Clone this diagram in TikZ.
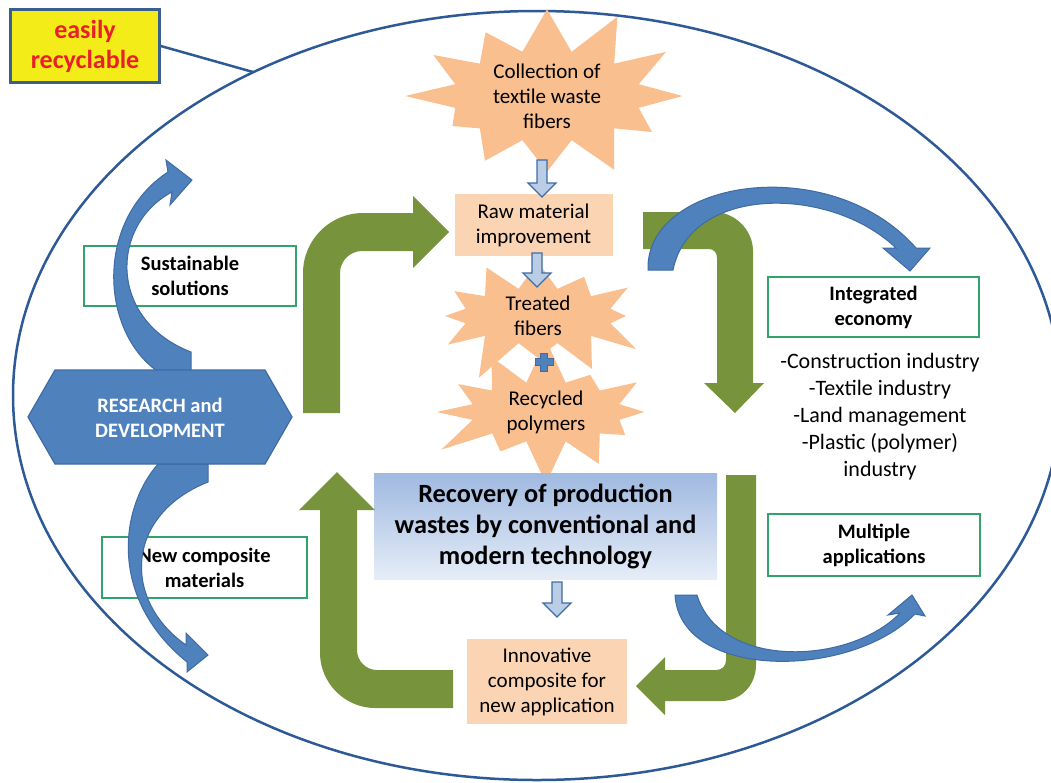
\documentclass[tikz,border=0pt]{standalone}
\usepackage{fontspec}
\setmainfont{Carlito}
\usetikzlibrary{shapes.symbols}

\definecolor{ringblue}{HTML}{2D5A97}
\definecolor{burstpeach}{HTML}{F9BF8F}
\definecolor{boxpeach}{HTML}{FBD4B4}
\definecolor{olivegreen}{HTML}{77933C}
\definecolor{arrowblue}{HTML}{4F81BD}
\definecolor{arrowedge}{HTML}{3E6BA3}
\definecolor{hollowfill}{HTML}{B9CDE5}
\definecolor{hollowedge}{HTML}{3F6CA6}
\definecolor{framegreen}{HTML}{33A36B}
\definecolor{recovtop}{HTML}{9FB9E0}
\definecolor{recovbot}{HTML}{E6EDF8}
\definecolor{tagyellow}{HTML}{F3EC19}
\definecolor{tagedge}{HTML}{3A5F8C}
\definecolor{tagred}{HTML}{E8202A}

\begin{document}
\begin{tikzpicture}[x=1pt,y=-1pt,
    ring/.style={draw=ringblue, line width=2.5pt},
    burst/.style={starburst, fill=burstpeach, starburst points=12,
      starburst point height=50pt, inner sep=0pt, align=center,
      font=\fontsize{21}{25}\selectfont},
    peachbox/.style={fill=boxpeach, align=center, inner sep=0pt,
      font=\fontsize{21}{25}\selectfont},
    framebox/.style={draw=framegreen, line width=1.5pt, fill=white,
      align=center, inner sep=0pt, font=\bfseries\fontsize{20.5}{25}\selectfont},
    greenarrow/.style={fill=olivegreen},
    bluearrow/.style={fill=arrowblue, draw=arrowedge, line width=1pt},
    hollow/.style={fill=hollowfill, draw=hollowedge, line width=1.3pt}]
    \useasboundingbox (0,0) rectangle (1051,782);

    %% outer ellipse and label
    \draw[ring] (537,395.5) ellipse [x radius=524, y radius=384.5];
    \node[draw=tagedge, line width=2.5pt, fill=tagyellow, text=tagred,
      minimum width=149pt, minimum height=73pt, inner sep=0pt, align=center,
      font=\bfseries\fontsize{26}{30}\selectfont] (easy) at (85,46)
      {easily\\recyclable};
    \coordinate (tie) at (253,72);
    \draw[ring] (easy.east) -- (tie);

    %% framed labels
    \node[framebox, minimum width=212pt, minimum height=60pt] (sust) at (190,276)
      {Sustainable\\solutions};
    \node[framebox, minimum width=205pt, minimum height=61pt] (newcomp) at (204.5,567.5)
      {New composite\\materials};
    \node[framebox, minimum width=211pt, minimum height=60pt] (integ) at (873.5,307)
      {Integrated\\economy};
    \node[framebox, minimum width=212pt, minimum height=62pt] (multi) at (874,545)
      {Multiple\\applications};
    \node[align=center, font=\fontsize{22}{27}\selectfont] (uses) at (880,417)
      {-Construction industry\\-Textile industry\\-Land management\\-Plastic (polymer)\\industry};

    %% central chain
    \node[burst, minimum width=290pt, minimum height=165pt, random starburst=37] (collect) at (547,96)
      {Collection of\\textile waste\\fibers};
    \node[peachbox, minimum width=158pt, minimum height=62pt] (raw) at (533.5,225)
      {Raw material\\improvement};
    \node[burst, minimum width=240pt, minimum height=140pt, random starburst=71,
      starburst point height=45pt] (treated) at (538,316) {Treated\\fibers};
    \node[burst, minimum width=242pt, minimum height=128pt, random starburst=53,
      starburst point height=45pt] (recycled) at (546,412) {Recycled\\polymers};
    \node[minimum width=343pt, minimum height=106pt, inner sep=0pt, top color=recovtop,
      bottom color=recovbot, align=center, font=\bfseries\fontsize{26.3}{31}\selectfont]
      (recov) at (545.5,526) {Recovery of production\\wastes by conventional and\\modern technology};
    \node[peachbox, minimum width=160pt, minimum height=85pt] (innov) at (547,681.5)
      {Innovative\\composite for\\new application};

    %% small hollow arrows
    \foreach \colx/\rowtop/\rowmid/\rowtip in {542/160/183/197, 537/253/273/287, 557/582/603/617}
      \draw[hollow] (\colx-5,\rowtop) -- (\colx+5,\rowtop) -- (\colx+5,\rowmid) -- (\colx+14,\rowmid)
        -- (\colx,\rowtip) -- (\colx-14,\rowmid) -- (\colx-5,\rowmid) -- cycle;

    %% plus sign
    \draw[fill=arrowblue, draw=arrowedge, line width=0.8pt] (540.5,353) -- (547.5,353) -- (547.5,358.5)
      -- (553,358.5) -- (553,365.5) -- (547.5,365.5) -- (547.5,371) -- (540.5,371) -- (540.5,365.5)
      -- (535,365.5) -- (535,358.5) -- (540.5,358.5) -- cycle;

    %% green cycle arrows
    \fill[greenarrow] (303,413) -- (303,273) .. controls (303,240) and (330,213) .. (363,213)
      -- (413,213) -- (413,196) -- (449,232) -- (413,268) -- (413,251) -- (362,251)
      .. controls (350,251) and (340,261) .. (340,273) -- (340,413) -- cycle;
    \fill[greenarrow] (643,212) -- (714,212) .. controls (735,212) and (753,230) .. (753,251)
      -- (753,383) -- (764,383) -- (735,413) -- (704,383) -- (717,383) -- (717,258)
      .. controls (717,253) and (714,249) .. (709,249) -- (643,249) -- cycle;
    \fill[greenarrow] (726,475) -- (756,475) -- (756,665) .. controls (756,685) and (741,701) .. (721,701)
      -- (665,701) -- (665,715) -- (636,686) -- (665,657) -- (665,670) -- (716,670)
      .. controls (722,670) and (726,666) .. (726,660) -- cycle;
    \fill[greenarrow] (453,670) -- (453,708) -- (375,708) .. controls (345,708) and (320,683) .. (320,653)
      -- (320,510) -- (299,510) -- (337,472) -- (375,510) -- (357,510) -- (357,650)
      .. controls (357,661) and (366,670) .. (377,670) -- cycle;

    %% blue curved arrows
    \draw[bluearrow] (157,371) .. controls (100,330) and (95,220) .. (168,172) -- (166,160)
      -- (192,180) -- (170,205) -- (172,192) .. controls (110,225) and (108,320) .. (191,352)
      -- (191,371) -- cycle;
    \draw[bluearrow] (158,464) .. controls (118,510) and (110,600) .. (187,662) -- (187,672)
      -- (208,655) -- (186,633) -- (186,645) .. controls (122,600) and (125,515) .. (208,482)
      -- (208,464) -- cycle;
    \draw[bluearrow] (648,270) .. controls (645,180) and (830,150) .. (916,248) -- (930,248)
      -- (910,271) -- (883,248) -- (896,248) .. controls (830,185) and (690,185) .. (673,270) -- cycle;
    \draw[bluearrow] (675,595) .. controls (680,680) and (850,680) .. (915,614) -- (925,616)
      -- (912,595) -- (888,615) -- (900,613) .. controls (850,665) and (720,670) .. (697,595) -- cycle;

    %% research hexagon
    \draw[fill=arrowblue, draw=arrowedge, line width=1.2pt] (28,417) -- (55,370) -- (265,370)
      -- (292,417) -- (265,464) -- (55,464) -- cycle;
    \node[text=white, align=center, font=\bfseries\fontsize{20.5}{25}\selectfont] (research) at (160,418)
      {RESEARCH and\\DEVELOPMENT};
\end{tikzpicture}
\end{document}
